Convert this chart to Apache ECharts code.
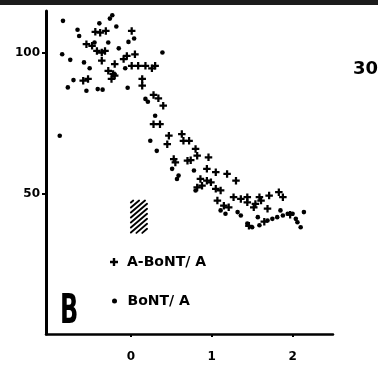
<!DOCTYPE html>
<html>
<head>
<meta charset="utf-8">
<script src="https://cdn.jsdelivr.net/npm/echarts@6/dist/echarts.min.js"></script>
<style>
  html, body { margin: 0; padding: 0; background: #fff; }
  #chart { width: 378px; height: 365px; }
</style>
</head>
<body>
<div id="chart"></div>
<script>
// Relative response (%) versus time; crosses = A-BoNT/A, dots = BoNT/A
const seriesNames = ['A-BoNT/ A', 'BoNT/ A'];

const aBontA = [
  [-0.44, 107.6], [-0.38, 107.3], [-0.31, 107.9], [0.01, 107.9],
  [-0.55, 103.2], [-0.48, 102.6], [-0.42, 100.8], [-0.36, 100.2], [-0.32, 100.8],
  [-0.36, 97.3], [-0.20, 96.1], [-0.09, 97.9], [-0.05, 99.0], [0.05, 99.6],
  [-0.28, 93.7], [-0.22, 92.6], [-0.24, 90.8], [-0.20, 92.0],
  [0.09, 95.5], [0.18, 95.5], [0.26, 94.6], [0.30, 95.5], [0.01, 95.5],
  [0.14, 90.8], [0.14, 88.4], [-0.59, 90.2], [-0.53, 90.8],
  [0.28, 85.1], [0.34, 83.9], [0.40, 81.3],
  [0.28, 74.7], [0.36, 74.7], [0.47, 70.6], [0.45, 67.6],
  [0.63, 71.2], [0.65, 68.8], [0.72, 68.8], [0.80, 65.9], [0.82, 63.5], [0.96, 62.9],
  [0.53, 62.3], [0.55, 61.1], [0.70, 61.7], [0.74, 61.9], [0.94, 58.8],
  [1.05, 57.6], [1.19, 57.0], [1.30, 54.6], [0.86, 55.2], [0.94, 54.6], [0.99, 54.0],
  [0.82, 52.2], [0.88, 52.8], [1.05, 51.7], [1.11, 51.1],
  [1.27, 48.7], [1.36, 48.1], [1.44, 48.7], [1.59, 48.7], [1.71, 49.3], [1.83, 50.5], [1.88, 48.7],
  [1.07, 47.5], [1.15, 45.7], [1.21, 45.1], [1.44, 46.9], [1.54, 46.3], [1.61, 47.5],
  [1.52, 45.1], [1.69, 44.6], [1.46, 38.5], [1.65, 40.0], [1.97, 42.5]
];

const bontA = [
  [-0.84, 111.5], [-0.66, 108.3], [-0.64, 106.1], [-0.39, 110.6], [-0.23, 113.5],
  [-0.26, 112.3], [-0.18, 109.5], [0.04, 105.2], [-0.03, 104.0], [-0.45, 103.8],
  [-0.28, 103.8], [-0.15, 101.7], [-0.85, 99.6], [-0.75, 97.6], [-0.58, 96.7],
  [-0.51, 94.6], [-0.71, 90.4], [-0.78, 87.8], [-0.55, 86.6], [-0.41, 87.2],
  [-0.35, 87.0], [-0.04, 87.7], [-0.07, 94.6], [0.39, 100.2], [0.18, 83.7],
  [0.21, 82.7], [-0.88, 70.6], [0.24, 68.8], [0.32, 65.2], [0.30, 77.7],
  [0.51, 58.8], [0.59, 56.4], [0.57, 55.2], [0.78, 58.2], [0.80, 51.1],
  [1.11, 44.0], [1.17, 42.8], [1.32, 43.4], [1.36, 42.2], [1.57, 41.6],
  [1.44, 39.3], [1.50, 38.0], [1.59, 38.7], [1.69, 40.4], [1.75, 41.0],
  [1.81, 41.6], [1.88, 42.2], [1.94, 42.8], [2.00, 42.8], [2.04, 41.0],
  [2.06, 39.8], [2.10, 38.0], [2.14, 43.4], [1.85, 44.0]
];

// Hatched block: [xStart, yLow, xEnd, yHigh]
const hatchBlock = [[0, 36, 0.2, 47.5]];

const xTicks = [0, 1, 2];
const yTicks = [50, 100];

const plusIcon = 'path://M3.5,0H6.5V3.5H10V6.5H6.5V10H3.5V6.5H0V3.5H3.5Z';
const FONT = 'DejaVu Sans';

const chart = echarts.init(document.getElementById('chart'), null, { renderer: 'canvas' });

// Diagonal hatching clipped to the block's rectangle
function renderHatch(params, api) {
  const p0 = api.coord([api.value(0), api.value(1)]);
  const p1 = api.coord([api.value(2), api.value(3)]);
  const x0 = p0[0], x1 = p1[0], yb = p0[1], yt = p1[1];
  const slope = 0.85, step = 5;
  const children = [];
  for (let c = yt + 2; c < yb + (x1 - x0) * slope; c += step) {
    const xa = Math.max(x0, x0 + (c - yb) / slope);
    const xb = Math.min(x1, x0 + (c - yt) / slope);
    if (xb - xa > 1.5) {
      children.push({
        type: 'line',
        shape: { x1: xa, y1: c - slope * (xa - x0), x2: xb, y2: c - slope * (xb - x0) },
        style: { stroke: '#000', lineWidth: 1.9, lineCap: 'round' }
      });
    }
  }
  return { type: 'group', children: children };
}

chart.setOption({
  backgroundColor: '#fff',
  animation: false,
  grid: { left: 46, right: 45, top: 11, bottom: 31, containLabel: false },
  xAxis: {
    type: 'value', min: -1.05, max: 2.5,
    splitLine: { show: false },
    axisLine: { onZero: false, lineStyle: { color: '#000', width: 2.5 } },
    axisTick: { customValues: xTicks, length: 3, lineStyle: { color: '#000', width: 2 } },
    axisLabel: {
      customValues: xTicks, margin: 17, color: '#000',
      fontFamily: FONT, fontWeight: 'bold', fontSize: 12
    }
  },
  yAxis: {
    type: 'value', min: 0, max: 115,
    splitLine: { show: false },
    axisLine: { onZero: false, lineStyle: { color: '#000', width: 3 } },
    axisTick: { customValues: yTicks, length: 4, lineStyle: { color: '#000', width: 2 } },
    axisLabel: {
      customValues: yTicks, margin: 6, color: '#000',
      fontFamily: FONT, fontWeight: 'bold', fontSize: 12
    }
  },
  legend: [
    {
      data: [{ name: seriesNames[0], icon: plusIcon }],
      left: 105, top: 250, itemWidth: 16, itemHeight: 8,
      textStyle: { color: '#000', fontFamily: FONT, fontWeight: 'bold', fontSize: 14, lineHeight: 14 }
    },
    {
      data: [{ name: seriesNames[1], icon: 'circle' }],
      left: 107, top: 289, itemWidth: 16, itemHeight: 5,
      textStyle: { color: '#000', fontFamily: FONT, fontWeight: 'bold', fontSize: 14, lineHeight: 14 }
    }
  ],
  series: [
    {
      name: seriesNames[0], type: 'scatter', data: aBontA,
      symbol: plusIcon, symbolSize: 7.5,
      itemStyle: { color: '#000', opacity: 1 }
    },
    {
      name: seriesNames[1], type: 'scatter', data: bontA,
      symbol: 'circle', symbolSize: 4.6,
      itemStyle: { color: '#000', opacity: 1 }
    },
    {
      type: 'custom', data: hatchBlock, renderItem: renderHatch,
      encode: { x: [0, 2], y: [1, 3] }, silent: true
    }
  ],
  graphic: [
    { type: 'rect', shape: { x: 0, y: 0, width: 378, height: 5 }, style: { fill: '#1c1c1c' } },
    {
      type: 'text', x: 353, y: 69,
      style: { text: '30', font: 'bold 18px "DejaVu Sans"', fill: '#000', textVerticalAlign: 'middle' }
    },
    {
      type: 'text', x: 60, y: 313, scaleX: 0.6,
      style: { text: 'B', font: 'bold 40px "DejaVu Sans"', fill: '#000', textVerticalAlign: 'middle' }
    }
  ]
});
</script>
</body>
</html>
